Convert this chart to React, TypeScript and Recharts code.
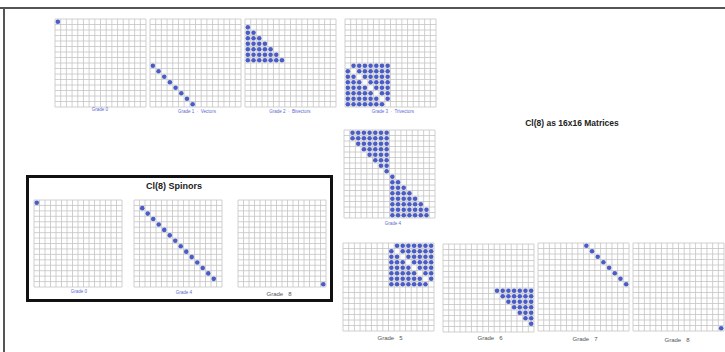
import { CartesianGrid, Scatter, ScatterChart, XAxis, YAxis } from "recharts";

// each entry: [row, columns that hold a dot in that row]
type Cells = [number, number[]][];

const gridLines = [-0.5, 0.5, 1.5, 2.5, 3.5, 4.5, 5.5, 6.5, 7.5, 8.5, 9.5, 10.5, 11.5, 12.5, 13.5, 14.5, 15.5];

const grade0: Cells = [[0, [0]]];
const grade1: Cells = [[8, [0]], [9, [1]], [10, [2]], [11, [3]], [12, [4]], [13, [5]], [14, [6]], [15, [7]]];
const grade2: Cells = [
  [1, [0]],
  [2, [0, 1]],
  [3, [0, 1, 2]],
  [4, [0, 1, 2, 3]],
  [5, [0, 1, 2, 3, 4]],
  [6, [0, 1, 2, 3, 4, 5]],
  [7, [0, 1, 2, 3, 4, 5, 6]],
];
const grade3: Cells = [
  [8, [1, 2, 3, 4, 5, 6, 7]],
  [9, [0, 2, 3, 4, 5, 6, 7]],
  [10, [0, 1, 3, 4, 5, 6, 7]],
  [11, [0, 1, 2, 4, 5, 6, 7]],
  [12, [0, 1, 2, 3, 5, 6, 7]],
  [13, [0, 1, 2, 3, 4, 6, 7]],
  [14, [0, 1, 2, 3, 4, 5, 7]],
  [15, [0, 1, 2, 3, 4, 5, 6]],
];
const grade4: Cells = [
  [0, [1, 2, 3, 4, 5, 6, 7]],
  [1, [1, 2, 3, 4, 5, 6, 7]],
  [2, [2, 3, 4, 5, 6, 7]],
  [3, [3, 4, 5, 6, 7]],
  [4, [4, 5, 6, 7]],
  [5, [5, 6, 7]],
  [6, [6, 7]],
  [7, [7]],
  [8, [8]],
  [9, [8, 9]],
  [10, [8, 9, 10]],
  [11, [8, 9, 10, 11]],
  [12, [8, 9, 10, 11, 12]],
  [13, [8, 9, 10, 11, 12, 13]],
  [14, [8, 9, 10, 11, 12, 13, 14]],
  [15, [8, 9, 10, 11, 12, 13, 14]],
];
const grade5: Cells = [
  [0, [9, 10, 11, 12, 13, 14, 15]],
  [1, [8, 10, 11, 12, 13, 14, 15]],
  [2, [8, 9, 11, 12, 13, 14, 15]],
  [3, [8, 9, 10, 12, 13, 14, 15]],
  [4, [8, 9, 10, 11, 13, 14, 15]],
  [5, [8, 9, 10, 11, 12, 14, 15]],
  [6, [8, 9, 10, 11, 12, 13, 15]],
  [7, [8, 9, 10, 11, 12, 13, 14]],
];
const grade6: Cells = [
  [8, [9, 10, 11, 12, 13, 14, 15]],
  [9, [10, 11, 12, 13, 14, 15]],
  [10, [11, 12, 13, 14, 15]],
  [11, [12, 13, 14, 15]],
  [12, [13, 14, 15]],
  [13, [14, 15]],
  [14, [15]],
];
const grade7: Cells = [[0, [8]], [1, [9]], [2, [10]], [3, [11]], [4, [12]], [5, [13]], [6, [14]], [7, [15]]];
const grade8: Cells = [[15, [15]]];

const spinorLeft: Cells = [[0, [0]]];
const spinorMid: Cells = [
  [1, [1]], [2, [2]], [3, [3]], [4, [4]], [5, [5]], [6, [6]], [7, [7]],
  [8, [8]], [9, [9]], [10, [10]], [11, [11]], [12, [12]], [13, [13]], [14, [14]],
];
const spinorRight: Cells = [[15, [15]]];

const BLUE = "#4a5cc6";

const toPoints = (cells: Cells) => cells.flatMap(([row, cols]) => cols.map((col) => ({ row, col })));

// grid lines sit between the cells, run through the axis scale when it is there
const gridCoords = (axis: any, start: number, size: number) =>
  gridLines.map((v) => (typeof axis?.scale === "function" ? axis.scale(v) : start + ((v + 0.5) / 16) * size));

function Dot(props: any) {
  if (props.cx == null) return null;
  return <circle cx={props.cx} cy={props.cy} r={2.3} fill={BLUE} />;
}

function Matrix({ cells, x, y, w = 93, h = 90 }: { cells: Cells; x: number; y: number; w?: number; h?: number }) {
  return (
    <div style={{ position: "absolute", left: x, top: y }}>
      <ScatterChart width={w} height={h} margin={{ top: 1, right: 1, bottom: 1, left: 1 }}>
        <CartesianGrid
          stroke="#c4c4c4"
          strokeWidth={0.8}
          verticalCoordinatesGenerator={({ xAxis, offset }: any) => gridCoords(xAxis, offset.left, offset.width)}
          horizontalCoordinatesGenerator={({ yAxis, offset }: any) => gridCoords(yAxis, offset.top, offset.height)}
        />
        <XAxis
          type="number"
          dataKey="col"
          domain={[-0.5, 15.5]}
          ticks={gridLines}
          tick={false}
          axisLine={false}
          tickLine={false}
          height={0}
        />
        <YAxis
          type="number"
          dataKey="row"
          domain={[-0.5, 15.5]}
          ticks={gridLines}
          tick={false}
          axisLine={false}
          tickLine={false}
          width={0}
          reversed
        />
        <Scatter data={toPoints(cells)} shape={<Dot />} isAnimationActive={false} />
      </ScatterChart>
    </div>
  );
}

function Caption({ text, x, y, gray }: { text: string; x: number; y: number; gray?: boolean }) {
  return (
    <div
      style={{
        position: "absolute",
        left: x - 60,
        top: y,
        width: 120,
        textAlign: "center",
        whiteSpace: "pre",
        fontFamily: "Liberation Sans, Arial, sans-serif",
        fontSize: gray ? 6 : 4.5,
        lineHeight: 1,
        color: gray ? "#555" : "#5a6ad0",
      }}
    >
      {text}
    </div>
  );
}

export default function App() {
  const title = {
    position: "absolute" as const,
    fontFamily: "Liberation Sans, Arial, sans-serif",
    fontWeight: 700,
    fontSize: 8.5,
    color: "#222",
    whiteSpace: "nowrap" as const,
    transform: "translate(-50%, -50%)",
  };
  return (
    <div style={{ position: "absolute", left: 0, top: 0, width: 725, height: 352, background: "#fff", overflow: "hidden" }}>
      <div style={{ position: "absolute", left: 0, top: 7, width: 725, height: 2, background: "#555" }} />
      <div style={{ position: "absolute", left: 3, top: 7, width: 2, height: 345, background: "#555" }} />

      <Matrix cells={grade0} x={54} y={18} />
      <Caption text="Grade 0" x={100} y={108} />
      <Matrix cells={grade1} x={149} y={18} />
      <Caption text="Grade 1  ·  Vectors" x={197} y={110} />
      <Matrix cells={grade2} x={244} y={18} />
      <Caption text="Grade 2  ·  Bivectors" x={290} y={110} />
      <Matrix cells={grade3} x={344} y={18} />
      <Caption text="Grade 3  ·  Trivectors" x={393} y={110} />

      <Matrix cells={grade4} x={343} y={129} />
      <Caption text="Grade 4" x={393} y={222} />

      <div style={{ ...title, left: 572, top: 123 }}>Cl(8) as 16x16 Matrices</div>

      <Matrix cells={grade5} x={342} y={242} />
      <Caption text="Grade   5" x={390} y={335} gray />
      <Matrix cells={grade6} x={442} y={243} />
      <Caption text="Grade   6" x={490} y={335} gray />
      <Matrix cells={grade7} x={537} y={242} />
      <Caption text="Grade   7" x={585} y={336} gray />
      <Matrix cells={grade8} x={632} y={242} />
      <Caption text="Grade   8" x={677} y={337} gray />

      <div
        style={{
          position: "absolute",
          left: 26,
          top: 175,
          width: 301,
          height: 121,
          border: "3px solid #111",
        }}
      />
      <div style={{ ...title, left: 174, top: 186, fontSize: 9 }}>Cl(8) Spinors</div>
      <Matrix cells={spinorLeft} x={33} y={199} w={90} h={89} />
      <Caption text="Grade 0" x={79} y={290} />
      <Matrix cells={spinorMid} x={133} y={199} w={90} h={89} />
      <Caption text="Grade 4" x={184} y={291} />
      <Matrix cells={spinorRight} x={237} y={199} w={90} h={89} />
      <Caption text="Grade   8" x={279} y={291} gray />
    </div>
  );
}
